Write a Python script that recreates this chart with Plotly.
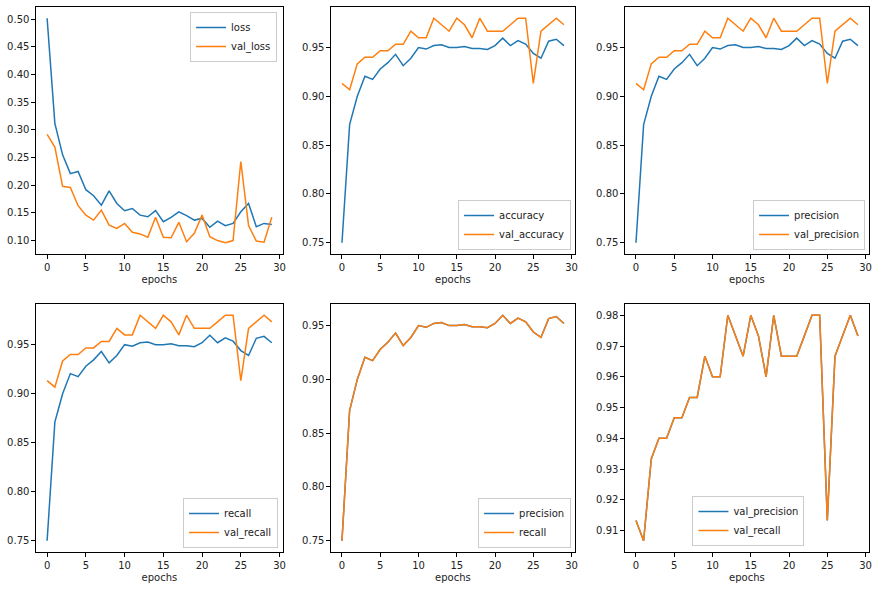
import plotly.graph_objects as go

epochs = list(range(30))

loss = [0.502, 0.312, 0.255, 0.221, 0.225, 0.192, 0.181, 0.164, 0.190, 0.167,
        0.154, 0.158, 0.146, 0.143, 0.154, 0.134, 0.142, 0.152, 0.145, 0.137,
        0.140, 0.124, 0.135, 0.127, 0.131, 0.152, 0.167, 0.125, 0.131, 0.129]
val_loss = [0.292, 0.269, 0.198, 0.196, 0.163, 0.146, 0.137, 0.155, 0.128, 0.122,
            0.131, 0.115, 0.112, 0.106, 0.142, 0.106, 0.105, 0.133, 0.098, 0.113,
            0.146, 0.107, 0.100, 0.096, 0.100, 0.243, 0.127, 0.099, 0.097, 0.142]
accuracy = [0.750, 0.871, 0.900, 0.9205, 0.9174, 0.928, 0.9345, 0.943, 0.9314, 0.939,
            0.950, 0.9484, 0.952, 0.9528, 0.950, 0.950, 0.951, 0.949, 0.949, 0.948,
            0.952, 0.9596, 0.952, 0.957, 0.9536, 0.944, 0.939, 0.9565, 0.9585, 0.952]
val_accuracy = [0.9133, 0.9067, 0.9333, 0.9400, 0.9400, 0.9467, 0.9467, 0.9533, 0.9533, 0.9667,
                0.9600, 0.9600, 0.9800, 0.9733, 0.9667, 0.9800, 0.9733, 0.9600, 0.9800, 0.9667,
                0.9667, 0.9667, 0.9733, 0.9800, 0.9800, 0.9133, 0.9667, 0.9733, 0.9800, 0.9733]
precision = accuracy
recall = accuracy
val_precision = val_accuracy
val_recall = val_accuracy

BLUE = "#1f77b4"
ORANGE = "#ff7f0e"
FONT = "DejaVu Sans"

W, H = 883, 589
cols = [(36, 284), (332, 577), (627, 872)]
rows = [(7, 254), (304, 552)]

panels = [
    (("loss", loss), ("val_loss", val_loss)),
    (("accuracy", accuracy), ("val_accuracy", val_accuracy)),
    (("precision", precision), ("val_precision", val_precision)),
    (("recall", recall), ("val_recall", val_recall)),
    (("precision", precision), ("recall", recall)),
    (("val_precision", val_precision), ("val_recall", val_recall)),
]

def yrange(a, b):
    lo = min(min(a), min(b)); hi = max(max(a), max(b))
    m = (hi - lo) * 0.05
    return [lo - m, hi + m]

ydtick = [0.05, 0.05, 0.05, 0.05, 0.05, 0.01]
# legend anchor: (x px, y px, xanchor, yanchor)
leg_pos = [(278, 12, "right", "top"), (573, 250, "right", "bottom"),
           (868, 250, "right", "bottom"), (279, 548, "right", "bottom"),
           (573, 548, "right", "bottom"), (751, 546, "center", "bottom")]

fig = go.Figure()
layout = dict(width=W, height=H, margin=dict(l=0, r=0, t=0, b=0),
              plot_bgcolor="white", paper_bgcolor="white",
              font=dict(family=FONT, size=10, color="#222"), showlegend=True)

for i, ((n1, d1), (n2, d2)) in enumerate(panels):
    r, c = divmod(i, 3)
    k = "" if i == 0 else str(i + 1)
    lg = "legend" if i == 0 else "legend" + str(i + 1)
    fig.add_trace(go.Scatter(x=epochs, y=d1, name=n1, mode="lines",
                             line=dict(color=BLUE, width=1.5),
                             xaxis="x" + k, yaxis="y" + k, legend=lg))
    fig.add_trace(go.Scatter(x=epochs, y=d2, name=n2, mode="lines",
                             line=dict(color=ORANGE, width=1.5),
                             xaxis="x" + k, yaxis="y" + k, legend=lg))
    x0, x1 = cols[c]; y0, y1 = rows[r]
    common = dict(showline=True, mirror=True, linecolor="black", linewidth=1,
                  ticks="outside", ticklen=3.5, tickcolor="black", showgrid=False,
                  zeroline=False, tickfont=dict(family=FONT, size=10, color="#222"))
    layout["xaxis" + k] = dict(domain=[x0 / W, x1 / W], anchor="y" + k,
                               range=[-1.45, 30.45], tick0=0, dtick=5,
                               title=dict(text="epochs", standoff=4,
                                          font=dict(family=FONT, size=10, color="#222")),
                               **common)
    layout["yaxis" + k] = dict(domain=[1 - y1 / H, 1 - y0 / H], anchor="x" + k,
                               range=yrange(d1, d2), dtick=ydtick[i], tick0=0,
                               tickformat=".2f", **common)
    lx, ly, xa, ya = leg_pos[i]
    layout[lg] = dict(x=lx / W, y=1 - ly / H, xanchor=xa, yanchor=ya,
                      bgcolor="rgba(255,255,255,0.8)", bordercolor="#cccccc",
                      borderwidth=1, font=dict(family=FONT, size=10, color="#222"),
                      itemwidth=30, tracegroupgap=0)

fig.update_layout(**layout)
fig.write_html("out.html")
